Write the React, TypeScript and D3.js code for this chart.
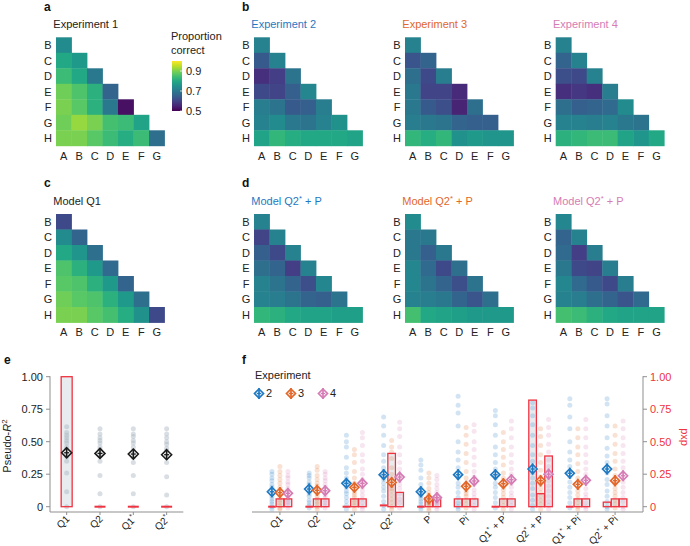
import React from 'react';
import * as d3 from 'd3';

// heatmap rows B..H, columns A..G (lower triangle)
const rowLabels = ['B', 'C', 'D', 'E', 'F', 'G', 'H'];
const colLabels = ['A', 'B', 'C', 'D', 'E', 'F', 'G'];

const exp1 = [
  [0.74],
  [0.80, 0.77],
  [0.84, 0.80, 0.70],
  [0.89, 0.86, 0.82, 0.66],
  [0.90, 0.87, 0.82, 0.70, 0.52],
  [0.89, 0.92, 0.90, 0.85, 0.84, 0.79],
  [0.90, 0.90, 0.87, 0.84, 0.81, 0.84, 0.68],
];
const exp2 = [
  [0.72],
  [0.64, 0.72],
  [0.57, 0.59, 0.69],
  [0.61, 0.60, 0.65, 0.73],
  [0.71, 0.69, 0.64, 0.65, 0.71],
  [0.72, 0.74, 0.70, 0.69, 0.72, 0.75],
  [0.79, 0.83, 0.81, 0.80, 0.80, 0.80, 0.79],
];
const exp3 = [
  [0.72],
  [0.63, 0.66],
  [0.68, 0.61, 0.71],
  [0.70, 0.60, 0.60, 0.56],
  [0.70, 0.64, 0.62, 0.55, 0.68],
  [0.71, 0.70, 0.69, 0.66, 0.65, 0.65],
  [0.83, 0.81, 0.83, 0.75, 0.77, 0.76, 0.76],
];
const exp4 = [
  [0.72],
  [0.66, 0.72],
  [0.62, 0.61, 0.72],
  [0.57, 0.58, 0.57, 0.71],
  [0.68, 0.65, 0.66, 0.67, 0.74],
  [0.72, 0.72, 0.71, 0.72, 0.70, 0.69],
  [0.82, 0.83, 0.84, 0.84, 0.79, 0.76, 0.80],
];
const modelQ1 = [
  [0.61],
  [0.74, 0.66],
  [0.80, 0.76, 0.68],
  [0.86, 0.82, 0.77, 0.67],
  [0.87, 0.86, 0.82, 0.77, 0.66],
  [0.89, 0.87, 0.86, 0.82, 0.77, 0.68],
  [0.90, 0.90, 0.87, 0.85, 0.81, 0.75, 0.61],
];
const modelExp2 = [
  [0.72],
  [0.60, 0.72],
  [0.65, 0.61, 0.72],
  [0.68, 0.66, 0.59, 0.72],
  [0.72, 0.69, 0.66, 0.62, 0.73],
  [0.72, 0.71, 0.69, 0.66, 0.65, 0.69],
  [0.83, 0.82, 0.80, 0.79, 0.79, 0.78, 0.78],
];
const modelExp3 = [
  [0.74],
  [0.70, 0.70],
  [0.70, 0.65, 0.70],
  [0.73, 0.67, 0.61, 0.68],
  [0.73, 0.69, 0.66, 0.62, 0.69],
  [0.72, 0.71, 0.70, 0.66, 0.63, 0.68],
  [0.85, 0.80, 0.79, 0.78, 0.77, 0.77, 0.77],
];
const modelExp4 = [
  [0.73],
  [0.66, 0.72],
  [0.67, 0.59, 0.71],
  [0.70, 0.61, 0.60, 0.71],
  [0.73, 0.67, 0.64, 0.61, 0.71],
  [0.72, 0.71, 0.68, 0.66, 0.63, 0.67],
  [0.85, 0.84, 0.82, 0.80, 0.79, 0.79, 0.79],
];

const colorTicks = [0.5, 0.7, 0.9];

// panel e
const modelsE = ['Q1', 'Q2', 'Q1*', 'Q2*'];
const meanE = [0.415, 0.41, 0.405, 0.40];
const seE = [0.03, 0.03, 0.03, 0.03];
const pxpE = [1, 0, 0, 0];
const dotsE = [
  [0.615, 0.57, 0.55, 0.53, 0.51, 0.49, 0.46, 0.44, 0.405, 0.385, 0.35, 0.26, 0.115, 0.0],
  [0.60, 0.56, 0.53, 0.51, 0.49, 0.46, 0.44, 0.41, 0.39, 0.35, 0.24, 0.10, 0.0],
  [0.60, 0.56, 0.54, 0.51, 0.49, 0.46, 0.43, 0.41, 0.38, 0.34, 0.24, 0.10, 0.0],
  [0.60, 0.56, 0.53, 0.50, 0.48, 0.45, 0.43, 0.40, 0.38, 0.34, 0.23, 0.09, 0.0],
];

// panel f
const modelsF = ['Q1', 'Q2', 'Q1*', 'Q2*', 'P', 'Pi', 'Q1* + P', 'Q2* + P', 'Q1* + Pi', 'Q2* + Pi'];
const expNames = ['2', '3', '4'];
const expColors = ['#1f79c2', '#e2672a', '#d67cb4'];
const meanExp2 = [0.115, 0.136, 0.18, 0.246, 0.115, 0.246, 0.246, 0.29, 0.257, 0.29];
const meanExp3 = [0.108, 0.126, 0.149, 0.187, 0.06, 0.157, 0.177, 0.2, 0.172, 0.2];
const meanExp4 = [0.103, 0.123, 0.18, 0.228, 0.07, 0.198, 0.208, 0.25, 0.203, 0.238];
const seF = [0.02, 0.02, 0.02];
const pxpExp2 = [0, 0, 0, 0.01, 0, 0.06, 0, 0.82, 0, 0.035];
const pxpExp3 = [0.06, 0.06, 0.06, 0.41, 0.07, 0.06, 0.06, 0.1, 0.06, 0.06];
const pxpExp4 = [0.06, 0.06, 0.06, 0.11, 0.07, 0.06, 0.06, 0.39, 0.06, 0.06];
const dotsExp2 = [
  [0.27, 0.25, 0.22, 0.2, 0.17, 0.15, 0.13, 0.12, 0.1, 0.08, 0.06, 0.04, 0.02, 0.0, -0.02],
  [0.26, 0.24, 0.22, 0.19, 0.17, 0.15, 0.14, 0.12, 0.1, 0.08, 0.05, 0.03, 0.01, -0.01],
  [0.55, 0.5, 0.46, 0.38, 0.3, 0.26, 0.22, 0.19, 0.17, 0.15, 0.12, 0.1, 0.07, 0.04, 0.01, -0.02],
  [0.69, 0.62, 0.55, 0.47, 0.4, 0.35, 0.3, 0.27, 0.24, 0.21, 0.18, 0.15, 0.12, 0.08, 0.04, 0.01, -0.02],
  [0.36, 0.32, 0.28, 0.22, 0.17, 0.14, 0.12, 0.11, 0.09, 0.08, 0.06, 0.04, 0.02, 0.0, -0.02],
  [0.85, 0.78, 0.72, 0.62, 0.5, 0.42, 0.36, 0.3, 0.26, 0.22, 0.18, 0.15, 0.11, 0.07, 0.03, 0.0, -0.02],
  [0.74, 0.7, 0.63, 0.55, 0.46, 0.4, 0.34, 0.29, 0.25, 0.22, 0.18, 0.15, 0.11, 0.07, 0.03, -0.01],
  [0.8, 0.76, 0.7, 0.63, 0.55, 0.47, 0.4, 0.35, 0.3, 0.26, 0.22, 0.18, 0.14, 0.09, 0.05, 0.01, -0.02],
  [0.83, 0.78, 0.69, 0.6, 0.5, 0.42, 0.36, 0.31, 0.27, 0.23, 0.19, 0.15, 0.11, 0.07, 0.03, -0.01],
  [0.83, 0.79, 0.7, 0.62, 0.53, 0.45, 0.39, 0.34, 0.3, 0.26, 0.21, 0.17, 0.12, 0.08, 0.04, 0.0, -0.02],
];
const dotsExp3 = [
  [0.31, 0.27, 0.24, 0.21, 0.18, 0.15, 0.13, 0.11, 0.09, 0.07, 0.05, 0.03, 0.01, -0.01, -0.02],
  [0.31, 0.28, 0.24, 0.21, 0.18, 0.16, 0.14, 0.12, 0.1, 0.08, 0.06, 0.04, 0.02, 0.0, -0.02],
  [0.44, 0.4, 0.34, 0.27, 0.22, 0.18, 0.15, 0.13, 0.11, 0.09, 0.07, 0.05, 0.03, 0.01, -0.02],
  [0.51, 0.46, 0.42, 0.37, 0.3, 0.25, 0.21, 0.18, 0.16, 0.14, 0.12, 0.09, 0.06, 0.03, 0.0, -0.02],
  [0.26, 0.22, 0.18, 0.14, 0.11, 0.09, 0.07, 0.06, 0.05, 0.04, 0.03, 0.02, 0.01, -0.01, -0.03],
  [0.61, 0.55, 0.48, 0.41, 0.34, 0.27, 0.22, 0.18, 0.15, 0.12, 0.1, 0.08, 0.05, 0.02, -0.01],
  [0.57, 0.5, 0.44, 0.38, 0.32, 0.26, 0.22, 0.19, 0.16, 0.13, 0.1, 0.07, 0.04, 0.01, -0.02],
  [0.6, 0.54, 0.47, 0.4, 0.34, 0.28, 0.23, 0.2, 0.17, 0.14, 0.11, 0.08, 0.05, 0.02, -0.02],
  [0.6, 0.53, 0.46, 0.4, 0.33, 0.27, 0.22, 0.18, 0.15, 0.12, 0.09, 0.06, 0.03, 0.0, -0.02],
  [0.62, 0.55, 0.48, 0.41, 0.35, 0.29, 0.24, 0.2, 0.17, 0.14, 0.11, 0.08, 0.05, 0.02, -0.01],
];
const dotsExp4 = [
  [0.27, 0.24, 0.22, 0.19, 0.17, 0.14, 0.12, 0.1, 0.08, 0.06, 0.04, 0.03, 0.01, -0.01],
  [0.27, 0.25, 0.22, 0.2, 0.17, 0.15, 0.13, 0.11, 0.09, 0.07, 0.05, 0.03, 0.01, -0.01],
  [0.57, 0.53, 0.47, 0.4, 0.35, 0.29, 0.25, 0.21, 0.18, 0.15, 0.12, 0.09, 0.06, 0.03, 0.0, -0.02],
  [0.65, 0.6, 0.54, 0.46, 0.4, 0.34, 0.29, 0.25, 0.22, 0.2, 0.17, 0.14, 0.1, 0.06, 0.03, -0.01],
  [0.24, 0.21, 0.17, 0.14, 0.11, 0.09, 0.07, 0.06, 0.05, 0.04, 0.03, 0.02, 0.0, -0.02],
  [0.63, 0.58, 0.5, 0.44, 0.38, 0.32, 0.27, 0.23, 0.2, 0.17, 0.13, 0.1, 0.07, 0.04, 0.01, -0.02],
  [0.66, 0.6, 0.53, 0.46, 0.4, 0.34, 0.29, 0.25, 0.21, 0.18, 0.15, 0.11, 0.08, 0.04, 0.01, -0.02],
  [0.67, 0.61, 0.55, 0.48, 0.42, 0.36, 0.31, 0.27, 0.23, 0.2, 0.16, 0.12, 0.08, 0.04, 0.01, -0.02],
  [0.67, 0.6, 0.53, 0.46, 0.4, 0.34, 0.29, 0.25, 0.21, 0.18, 0.14, 0.1, 0.07, 0.03, 0.0, -0.02],
  [0.66, 0.6, 0.53, 0.47, 0.41, 0.35, 0.3, 0.26, 0.22, 0.19, 0.15, 0.11, 0.07, 0.04, 0.0, -0.02],
];
const yTicks = [0, 0.25, 0.5, 0.75, 1];

const FONT = "'Liberation Sans', Arial, Helvetica, sans-serif";
const CELL = 15.5;
const RED = '#ef3340';
const AXIS = '#8f8f8f';
const TXT = '#222';
const color = d3.scaleSequential(d3.interpolateViridis).domain([0.5, 1.0]);
const fmtTick = (v: number) => (v === 0 ? '0' : d3.format('.2f')(v));
const diamond = (r: number) => `M0,${-r}L${r},0L0,${r}L${-r},0Z`;

// render text with superscript asterisks
function starText(s: string) {
  const parts = s.split('*');
  const out: React.ReactNode[] = [];
  parts.forEach((p, i) => {
    if (i === 0) out.push(<tspan key="t0">{p}</tspan>);
    else {
      out.push(<tspan key={'s' + i} dy={-4} fontSize="0.7em">*</tspan>);
      out.push(<tspan key={'t' + i} dy={4}>{p}</tspan>);
    }
  });
  return out;
}

interface HeatProps {
  x0: number;
  y0: number;
  values: number[][];
  title: string;
  titleColor: string;
}

const Heatmap: React.FC<HeatProps> = ({ x0, y0, values, title, titleColor }) => {
  const xs = d3.scaleBand<string>().domain(colLabels).range([x0, x0 + CELL * 7]);
  const ys = d3.scaleBand<string>().domain(rowLabels).range([y0, y0 + CELL * 7]);
  return (
    <g>
      <text x={x0 - 2.7} y={y0 - 9.5} fill={titleColor} fontSize={11}>{starText(title)}</text>
      {values.map((row, i) =>
        row.map((v, j) => (
          <rect key={`${i}-${j}`} x={xs(colLabels[j])} y={ys(rowLabels[i])}
            width={xs.bandwidth() + 0.4} height={ys.bandwidth() + 0.4} fill={color(v)} />
        )))}
      {rowLabels.map(r => (
        <text key={r} x={x0 - 8} y={(ys(r) as number) + CELL / 2} dy="0.36em" textAnchor="middle" fontSize={11} fill={TXT}>{r}</text>
      ))}
      {colLabels.map(c => (
        <text key={c} x={(xs(c) as number) + CELL / 2} y={y0 + CELL * 7 + 10} dy="0.36em" textAnchor="middle" fontSize={11} fill={TXT}>{c}</text>
      ))}
    </g>
  );
};

const Marker: React.FC<{ x: number; y: number; se: number; c: string; r: number; sw: number }> = ({ x, y, se, c, r, sw }) => (
  <g transform={`translate(${x},${y})`}>
    <path d={diamond(r)} fill="#fff" fillOpacity={0.55} stroke={c} strokeWidth={sw} />
    <line x1={0} x2={0} y1={-se} y2={se} stroke={c} strokeWidth={sw} />
    <line x1={-r * 0.5} x2={r * 0.5} y1={0} y2={0} stroke={c} strokeWidth={sw * 0.8} />
  </g>
);

const App: React.FC = () => {
  const yS = d3.scaleLinear().domain([0, 1]).range([506.7, 376.7]);
  const xE = d3.scalePoint<string>().domain(modelsE).range([50, 183.3]).padding(0.5);
  const xF = d3.scalePoint<string>().domain(modelsF).range([252, 643]).padding(0.75);
  const offsets = [-8, 0, 8];
  const bwF = 7.6;
  const bwE = 11;
  const meansF = [meanExp2, meanExp3, meanExp4];
  const pxpF = [pxpExp2, pxpExp3, pxpExp4];
  const dotsF = [dotsExp2, dotsExp3, dotsExp4];
  const axisY = 512;

  const grad = d3.range(0, 1.001, 0.1);

  const bar = (cx: number, w: number, v: number, key: string, outline: boolean) => {
    if (v < 0.02) {
      return outline ? <line key={key} x1={cx - w / 2} x2={cx + w / 2} y1={yS(v)} y2={yS(v)} stroke={RED} strokeWidth={2} /> : null;
    }
    return outline
      ? <rect key={key} x={cx - w / 2} y={yS(v)} width={w} height={yS(0) - yS(v)} fill="none" stroke={RED} strokeWidth={1.3} />
      : <rect key={key} x={cx - w / 2} y={yS(v)} width={w} height={yS(0) - yS(v)} fill="#d9dfe4" fillOpacity={0.6} />;
  };

  const tickLabel = (x: number, m: string) => (
    <text transform={`translate(${x + 1},${axisY + 5}) rotate(-45)`} textAnchor="end" dy="0.36em" fontSize={10} fill={TXT}>{starText(m)}</text>
  );

  return (
    <svg width={690} height={546} style={{ position: 'absolute', left: 0, top: 0, background: '#fff' }} fontFamily={FONT}>
      <defs>
        <linearGradient id="viridis" x1="0" y1="1" x2="0" y2="0">
          {grad.map(t => <stop key={t} offset={t} stopColor={d3.interpolateViridis(t)} />)}
        </linearGradient>
      </defs>

      {/* panel letters */}
      <g fontWeight="bold" fontSize={12} fill="#111">
        <text x={44} y={11}>a</text>
        <text x={242} y={11}>b</text>
        <text x={44} y={187}>c</text>
        <text x={242} y={187}>d</text>
        <text x={4} y={364}>e</text>
        <text x={242} y={364}>f</text>
      </g>

      <Heatmap x0={56} y0={37.3} values={exp1} title="Experiment 1" titleColor={TXT} />
      <Heatmap x0={254} y0={37.3} values={exp2} title="Experiment 2" titleColor={expColors[0]} />
      <Heatmap x0={405} y0={37.3} values={exp3} title="Experiment 3" titleColor={expColors[1]} />
      <Heatmap x0={555.7} y0={37.3} values={exp4} title="Experiment 4" titleColor={expColors[2]} />
      <Heatmap x0={56} y0={214} values={modelQ1} title="Model Q1" titleColor={TXT} />
      <Heatmap x0={254} y0={214} values={modelExp2} title="Model Q2* + P" titleColor={expColors[0]} />
      <Heatmap x0={405} y0={214} values={modelExp3} title="Model Q2* + P" titleColor={expColors[1]} />
      <Heatmap x0={555.7} y0={214} values={modelExp4} title="Model Q2* + P" titleColor={expColors[2]} />

      {/* colour bar */}
      <g>
        <text x={171} y={40} fontSize={11} fill={TXT}>Proportion</text>
        <text x={171} y={54} fontSize={11} fill={TXT}>correct</text>
        <rect x={172} y={61} width={10} height={50} fill="url(#viridis)" />
        {colorTicks.map(t => {
          const y = 111 - (t - 0.5) * 100;
          return (
            <g key={t}>
              <line x1={180} x2={182} y1={y} y2={y} stroke="#fff" strokeOpacity={0.7} />
              <text x={186} y={y} dy="0.36em" fontSize={11} fill={TXT}>{t.toFixed(1)}</text>
            </g>
          );
        })}
      </g>

      {/* panel e */}
      <g>
        {modelsE.map((m, i) => bar(xE(m) as number, bwE, pxpE[i], 'ef' + i, false))}
        {modelsE.map((m, i) => dotsE[i].map((v, k) => (
          <circle key={`e${i}-${k}`} cx={xE(m)} cy={yS(v)} r={2.5} fill="#a9b6c2" fillOpacity={0.45} />
        )))}
        {modelsE.map((m, i) => bar(xE(m) as number, bwE, pxpE[i], 'eo' + i, true))}
        {modelsE.map((m, i) => (
          <Marker key={'em' + i} x={xE(m) as number} y={yS(meanE[i])} se={yS(0) - yS(seE[i]) + 1} c="#1a1a1a" r={5} sw={1.6} />
        ))}
        <line x1={50} x2={50} y1={376.2} y2={axisY} stroke={AXIS} />
        <line x1={50} x2={183.3} y1={axisY} y2={axisY} stroke={AXIS} />
        {yTicks.map(t => (
          <g key={t}>
            <line x1={46} x2={50} y1={yS(t)} y2={yS(t)} stroke={AXIS} />
            <text x={43} y={yS(t)} dy="0.36em" textAnchor="end" fontSize={11} fill={TXT}>{fmtTick(t)}</text>
          </g>
        ))}
        {modelsE.map(m => (
          <g key={m}>
            <line x1={xE(m)} x2={xE(m)} y1={axisY} y2={axisY + 3} stroke={AXIS} />
            {tickLabel(xE(m) as number, m)}
          </g>
        ))}
        <text transform="translate(11,446) rotate(-90)" textAnchor="middle" fontSize={11} fill={TXT}>
          Pseudo-<tspan fontStyle="italic">R</tspan><tspan dy={-4} fontSize={8}>2</tspan>
        </text>
      </g>

      {/* panel f */}
      <g>
        {modelsF.map((m, i) => [0, 1, 2].map(e => bar((xF(m) as number) + offsets[e], bwF, pxpF[e][i], `ff${i}-${e}`, false)))}
        {modelsF.map((m, i) => [0, 1, 2].map(e => dotsF[e][i].map((v, k) => (
          <circle key={`f${i}-${e}-${k}`} cx={(xF(m) as number) + offsets[e]} cy={yS(v)} r={2.5} fill={expColors[e]} fillOpacity={0.2} />
        ))))}
        {modelsF.map((m, i) => [0, 1, 2].map(e => bar((xF(m) as number) + offsets[e], bwF, pxpF[e][i], `fo${i}-${e}`, true)))}
        {modelsF.map((m, i) => [0, 1, 2].map(e => (
          <Marker key={`fm${i}-${e}`} x={(xF(m) as number) + offsets[e]} y={yS(meansF[e][i])} se={yS(0) - yS(seF[e]) + 3} c={expColors[e]} r={4.5} sw={1.7} />
        )))}
        <line x1={252} x2={643} y1={axisY} y2={axisY} stroke={AXIS} />
        <line x1={643} x2={643} y1={376.2} y2={axisY} stroke={AXIS} />
        {yTicks.map(t => (
          <g key={t}>
            <line x1={643} x2={647} y1={yS(t)} y2={yS(t)} stroke={AXIS} />
            <text x={650} y={yS(t)} dy="0.36em" fontSize={11} fill={RED}>{fmtTick(t)}</text>
          </g>
        ))}
        <text transform="translate(681,437) rotate(90)" textAnchor="middle" fontSize={11} fill={RED}>pxp</text>
        {modelsF.map(m => (
          <g key={m}>
            <line x1={xF(m)} x2={xF(m)} y1={axisY} y2={axisY + 3} stroke={AXIS} />
            {tickLabel(xF(m) as number, m)}
          </g>
        ))}
        {/* legend */}
        <text x={255} y={379} fontSize={11} fill={TXT}>Experiment</text>
        {expNames.map((n, e) => (
          <g key={n}>
            <Marker x={259 + e * 32} y={393.5} se={5.5} c={expColors[e]} r={4.5} sw={1.7} />
            <text x={266 + e * 32} y={393.5} dy="0.36em" fontSize={11} fill={TXT}>{n}</text>
          </g>
        ))}
      </g>
    </svg>
  );
};

export default App;
